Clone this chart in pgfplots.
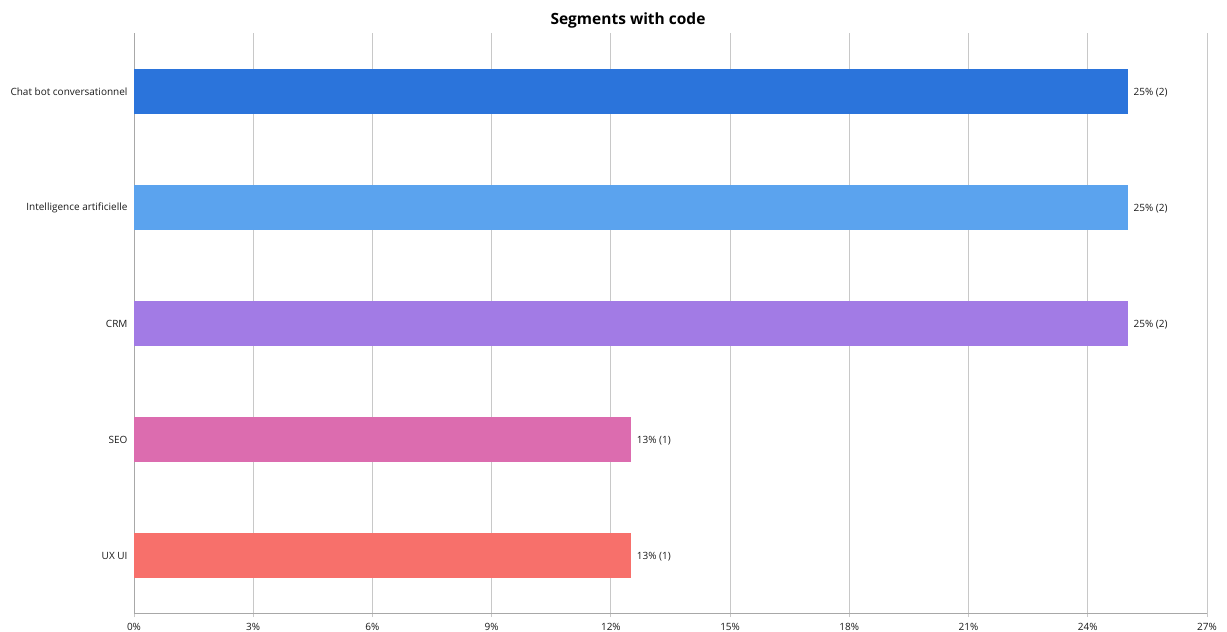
\documentclass[border=0pt]{standalone}
\usepackage{pgfplots}
\pgfplotsset{compat=1.18}
\usepackage{fontspec}
\setmainfont{Open Sans}
\definecolor{cA}{HTML}{2B74DB}
\definecolor{cB}{HTML}{5BA3EE}
\definecolor{cC}{HTML}{A27BE5}
\definecolor{cD}{HTML}{DC6CAF}
\definecolor{cE}{HTML}{F7706B}
\definecolor{gridc}{HTML}{C8C8C8}
\definecolor{axc}{HTML}{A8A8A8}
\definecolor{txt}{HTML}{1A1A1A}
\begin{document}
\begin{tikzpicture}[x=1pt,y=1pt]
\useasboundingbox (0,0) rectangle (1227,632);
\begin{axis}[
  at={(134pt,19pt)}, anchor=south west,
  scale only axis, width=1073pt, height=580pt,
  xmin=0, xmax=27, ymin=-0.5, ymax=4.5,
  y dir=reverse,
  xbar, bar width=45pt, bar shift=0pt,
  axis x line*=bottom, axis y line*=left,
  axis line style={draw=axc, line width=0.8pt, -},
  xtick={0,3,...,27},
  xticklabel={\pgfmathprintnumber[assume math mode=true]{\tick}\%},
  ytick={0,1,2,3,4},
  yticklabels={Chat bot conversationnel,Intelligence artificielle,CRM,SEO,UX UI},
  xmajorgrids, major grid style={draw=gridc, line width=0.8pt},
  tick align=outside,
  x tick style={draw=gridc, line width=0.8pt},
  major tick length=4pt,
  y tick style={draw=none},
  ticklabel style={font=\fontsize{10}{12}\selectfont, text=txt},
  xticklabel style={yshift=-2.5pt},
  yticklabel style={xshift=1pt, yshift=-1pt},
  point meta=explicit symbolic,
  nodes near coords,
  nodes near coords style={font=\fontsize{10}{12}\selectfont, text=txt, anchor=west, inner sep=0pt, xshift=6pt, yshift=-1.5pt},
]
\addplot[fill=cA, draw=none] coordinates {(25,0) [25\% (2)]};
\addplot[fill=cB, draw=none] coordinates {(25,1) [25\% (2)]};
\addplot[fill=cC, draw=none] coordinates {(25,2) [25\% (2)]};
\addplot[fill=cD, draw=none] coordinates {(12.5,3) [13\% (1)]};
\addplot[fill=cE, draw=none] coordinates {(12.5,4) [13\% (1)]};
\end{axis}
\node[font=\fontsize{15.5}{18}\selectfont\bfseries, text=black] at (628,612) {Segments with code};
\end{tikzpicture}
\end{document}
